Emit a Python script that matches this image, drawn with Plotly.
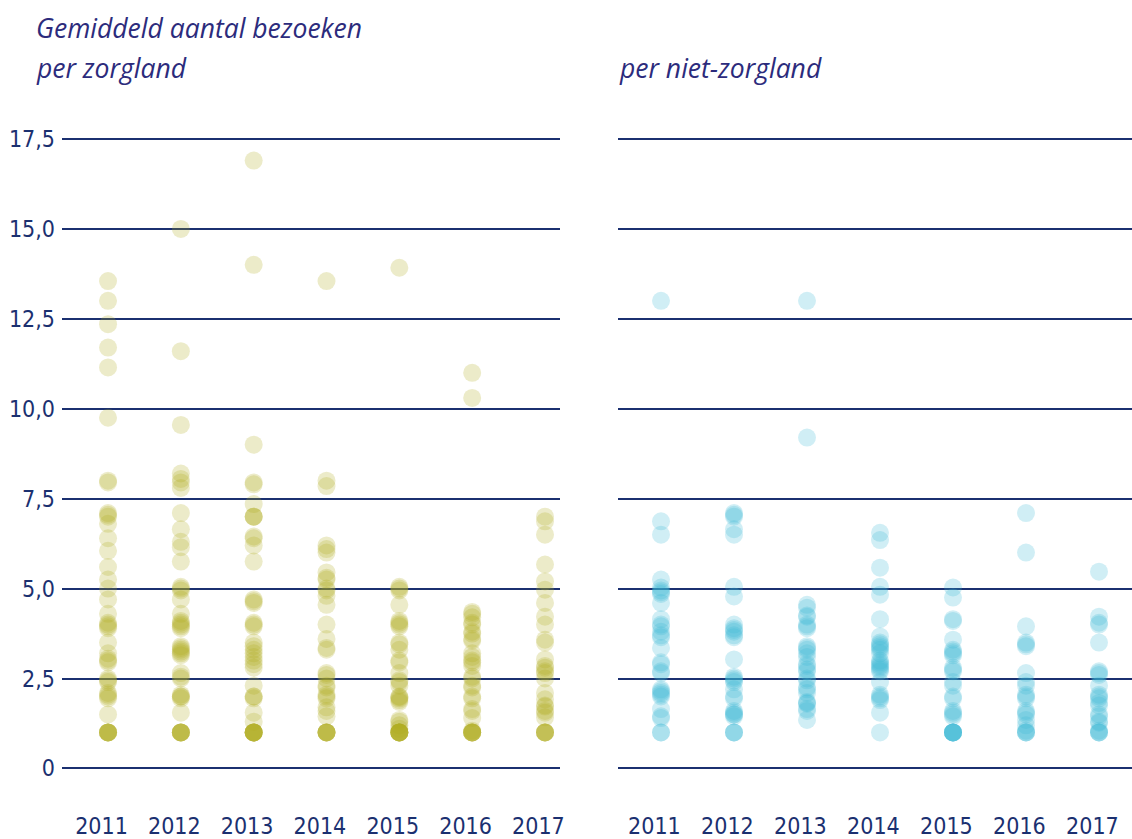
import plotly.graph_objects as go

years = [2011, 2012, 2013, 2014, 2015, 2016, 2017]
y_tickvals = [0, 2.5, 5, 7.5, 10, 12.5, 15, 17.5]
y_ticktext = ["0", "2,5", "5,0", "7,5", "10,0", "12,5", "15,0", "17,5"]

title_left_1 = "Gemiddeld aantal bezoeken"
title_left_2 = "per zorgland"
title_right = "per niet-zorgland"

# per zorgland
zorg_2011 = [13.55, 13.0, 12.35, 11.7, 11.15, 9.75, 8.0, 7.95, 7.1, 7.05, 7.0, 6.8, 6.4, 6.05, 5.6, 5.25, 5.0,
             4.7, 4.3, 4.05, 4.0, 3.95, 3.9, 3.5, 3.2, 3.05, 3.0, 2.95, 2.5, 2.45, 2.4, 2.1, 2.05, 2.0, 1.95,
             1.5, 1.0, 1.0, 1.0, 1.0, 1.0, 1.0]
zorg_2012 = [15.0, 11.6, 9.55, 8.2, 8.05, 7.95, 7.8, 7.1, 6.65, 6.3, 6.15, 5.75, 5.05, 5.0, 4.95, 4.7, 4.3,
             4.1, 4.05, 4.0, 3.95, 3.9, 3.4, 3.35, 3.3, 3.25, 3.2, 3.15, 2.65, 2.55, 2.5, 2.05, 2.0, 1.95, 2.0,
             1.55, 1.0, 1.0, 1.0, 1.0, 1.0, 1.0]
zorg_2013 = [16.9, 14.0, 9.0, 7.95, 7.9, 7.35, 7.0, 7.0, 7.0, 6.45, 6.4, 6.2, 5.75, 4.7, 4.65, 4.6, 4.05,
             4.0, 3.95, 3.5, 3.4, 3.3, 3.2, 3.1, 3.0, 2.9, 2.8, 2.3, 2.0, 2.0, 1.95, 1.55, 1.3,
             1.0, 1.0, 1.0, 1.0, 1.0, 1.0, 1.0, 1.0]
zorg_2014 = [13.55, 8.0, 7.85, 6.2, 6.1, 6.0, 5.45, 5.3, 5.25, 5.0, 4.95, 4.8, 4.55, 4.0, 3.6, 3.35, 3.3,
             2.65, 2.6, 2.5, 2.3, 2.25, 2.05, 2.0, 1.95, 1.7, 1.6, 1.45, 1.0, 1.0, 1.0, 1.0, 1.0, 1.0]
zorg_2015 = [13.92, 5.05, 5.0, 4.95, 4.55, 4.1, 4.05, 4.0, 3.95, 3.5, 3.45, 3.3, 3.0, 2.95, 2.65, 2.45,
             2.4, 2.3, 2.0, 1.98, 1.95, 1.9, 1.85, 1.35, 1.3, 1.2, 1.1,
             1.0, 1.0, 1.0, 1.0, 1.0, 1.0, 1.0, 1.0]
zorg_2016 = [11.0, 10.3, 4.35, 4.3, 4.2, 4.05, 4.0, 3.8, 3.75, 3.6, 3.55, 3.2, 3.1, 3.0, 2.95, 2.85, 2.55,
             2.5, 2.3, 2.25, 2.0, 1.95, 1.65, 1.6, 1.4, 1.05, 1.0, 1.0, 1.0, 1.0, 1.0, 1.0]
zorg_2017 = [7.0, 6.87, 6.5, 5.67, 5.2, 4.97, 4.6, 4.22, 4.0, 3.58, 3.5, 3.03, 2.85, 2.8, 2.7, 2.65, 2.5,
             2.1, 1.92, 1.75, 1.72, 1.6, 1.55, 1.42, 1.0, 1.0, 1.0, 1.0, 1.0]

# per niet-zorgland
niet_2011 = [13.0, 6.87, 6.5, 5.25, 5.03, 4.95, 4.9, 4.85, 4.6, 4.15, 4.0, 3.95, 3.8, 3.7, 3.65, 3.35, 2.95,
             2.9, 2.7, 2.65, 2.2, 2.15, 2.1, 2.05, 2.0, 1.65, 1.45, 1.4, 1.0, 1.0]
niet_2012 = [7.1, 7.05, 7.0, 6.65, 6.5, 5.05, 4.78, 4.0, 3.9, 3.85, 3.8, 3.7, 3.65, 3.03, 2.55, 2.5, 2.45,
             2.4, 2.2, 2.0, 1.95, 1.6, 1.55, 1.5, 1.5, 1.45, 1.0, 1.0, 1.0]
niet_2013 = [13.0, 9.2, 4.55, 4.47, 4.25, 4.22, 4.0, 3.95, 3.9, 3.4, 3.35, 3.3, 3.2, 3.1, 2.9, 2.85, 2.75,
             2.7, 2.5, 2.45, 2.25, 2.2, 2.1, 1.85, 1.82, 1.8, 1.65, 1.6, 1.35]
niet_2014 = [6.55, 6.35, 5.58, 5.05, 4.83, 4.15, 3.67, 3.5, 3.45, 3.4, 3.35, 3.3, 3.2, 3.0, 2.95, 2.9, 2.85,
             2.8, 2.75, 2.7, 2.4, 2.05, 2.0, 1.95, 1.9, 1.55, 1.0]
niet_2015 = [5.03, 4.75, 4.15, 4.1, 3.58, 3.3, 3.25, 3.2, 3.15, 2.8, 2.75, 2.7, 2.4, 2.3, 2.0, 1.95, 1.6,
             1.55, 1.5, 1.45, 1.0, 1.0, 1.0, 1.0, 1.0, 1.0, 1.0]
niet_2016 = [7.1, 6.0, 3.95, 3.5, 3.45, 3.4, 2.65, 2.4, 2.3, 2.05, 2.0, 1.95, 1.6, 1.55, 1.5, 1.35, 1.2,
             1.05, 1.0, 1.0, 1.0]
niet_2017 = [5.47, 4.22, 4.05, 4.0, 3.5, 2.7, 2.65, 2.6, 2.3, 2.05, 2.0, 1.95, 1.82, 1.75, 1.5, 1.45, 1.3,
             1.27, 1.05, 1.0, 1.0, 1.0]

zorg = [zorg_2011, zorg_2012, zorg_2013, zorg_2014, zorg_2015, zorg_2016, zorg_2017]
niet = [niet_2011, niet_2012, niet_2013, niet_2014, niet_2015, niet_2016, niet_2017]

OLIVE = "#b0aa1e"
BLUE = "#3cb9d6"
NAVY = "#1b3070"
TITLE = "#2c2b7c"
TICKFONT = dict(family="DejaVu Sans Condensed, Liberation Sans Narrow, sans-serif", size=23, color=NAVY)
TITLEFONT = dict(family="Open Sans, sans-serif", size=26.5, color=TITLE)

W, H = 1150, 839
T, B = 121, 30
SX = 1132 / W  # observed horizontal squeeze of the page in the screenshot


def px(pix):
    return pix / SX / W


def py(pix):
    return (H - B - pix) / (H - T - B)


fig = go.Figure()
for yr, vals in zip(years, zorg):
    fig.add_trace(go.Scatter(x=[yr] * len(vals), y=vals, mode="markers", xaxis="x", yaxis="y",
                             marker=dict(size=18, color=OLIVE, opacity=0.24, line=dict(width=0)),
                             showlegend=False, hoverinfo="y"))
for yr, vals in zip(years, niet):
    fig.add_trace(go.Scatter(x=[yr] * len(vals), y=vals, mode="markers", xaxis="x2", yaxis="y2",
                             marker=dict(size=18, color=BLUE, opacity=0.24, line=dict(width=0)),
                             showlegend=False, hoverinfo="y"))

yax = dict(range=[-1.1, 18.0], tickvals=y_tickvals, ticktext=y_ticktext, showgrid=True,
           gridcolor=NAVY, gridwidth=2, zeroline=False, showline=False, ticks="",
           tickfont=TICKFONT, fixedrange=True)
xax = dict(tickvals=years, ticktext=[str(y) + "\u00a0\u00a0" for y in years], showgrid=False,
           zeroline=False, showline=False, ticks="", tickfont=TICKFONT, ticklabelstandoff=2)

fig.update_layout(
    width=W, height=H,
    margin=dict(l=0, r=0, t=T, b=B),
    paper_bgcolor="white", plot_bgcolor="white",
    xaxis=dict(xax, domain=[px(62), px(560)], range=[2010.368, 2017.206]),
    xaxis2=dict(xax, domain=[px(618), 1.0], range=[2010.411, 2017.452]),
    yaxis=dict(yax, anchor="x", ticklabelstandoff=6),
    yaxis2=dict(yax, anchor="x2", showticklabels=False),
    annotations=[
        dict(text="<i>" + title_left_1 + "</i>", x=px(34), y=py(28), xref="paper", yref="paper",
             xanchor="left", yanchor="middle", showarrow=False, font=TITLEFONT),
        dict(text="<i>" + title_left_2 + "</i>", x=px(34), y=py(68), xref="paper", yref="paper",
             xanchor="left", yanchor="middle", showarrow=False, font=TITLEFONT),
        dict(text="<i>" + title_right + "</i>", x=px(617), y=py(68), xref="paper", yref="paper",
             xanchor="left", yanchor="middle", showarrow=False, font=TITLEFONT),
    ],
)

fig.write_html("out.html", config={"displayModeBar": False},
               post_script="document.body.style.margin='0px';"
                           "document.body.style.overflow='hidden';")
